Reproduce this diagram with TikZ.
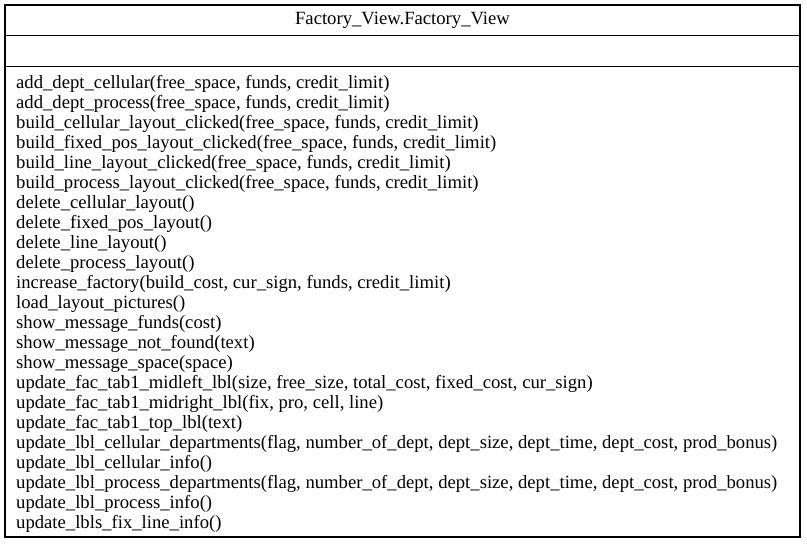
\documentclass[tikz,border=0pt]{standalone}
\usepackage{fontspec}
\setmainfont{Liberation Serif}
\begin{document}
\begin{tikzpicture}[x=1pt,y=-1pt,
  boxline/.style={draw=black,line width=1.1pt},
  sepline/.style={draw=black,line width=1pt},
  meth/.style={anchor=base west,inner sep=0pt,font=\fontsize{18.67}{20}\selectfont},
  ttl/.style={anchor=base,inner sep=0pt,font=\fontsize{18.67}{20}\selectfont}]
\useasboundingbox (0,0) rectangle (807,545);
\fill[white] (0,0) rectangle (807,545);
\coordinate (tl) at (5,5);
\coordinate (br) at (800,537);
\coordinate (s1l) at (5,36);
\coordinate (s1r) at (800,36);
\coordinate (s2l) at (5,67);
\coordinate (s2r) at (800,67);
\draw[boxline] (tl) rectangle (br);
\draw[sepline] (s1l) -- (s1r);
\draw[sepline] (s2l) -- (s2r);
\node[ttl] (title) at (402.5,24.5) {Factory\_View.Factory\_View};
\foreach \t [count=\i] in {
add\_dept\_cellular(free\_space{,} funds{,} credit\_limit),
add\_dept\_process(free\_space{,} funds{,} credit\_limit),
build\_cellular\_layout\_clicked(free\_space{,} funds{,} credit\_limit),
build\_fixed\_pos\_layout\_clicked(free\_space{,} funds{,} credit\_limit),
build\_line\_layout\_clicked(free\_space{,} funds{,} credit\_limit),
build\_process\_layout\_clicked(free\_space{,} funds{,} credit\_limit),
delete\_cellular\_layout(),
delete\_fixed\_pos\_layout(),
delete\_line\_layout(),
delete\_process\_layout(),
increase\_factory(build\_cost{,} cur\_sign{,} funds{,} credit\_limit),
load\_layout\_pictures(),
show\_message\_funds(cost),
show\_message\_not\_found(text),
show\_message\_space(space),
update\_fac\_tab1\_midleft\_lbl(size{,} free\_size{,} total\_cost{,} fixed\_cost{,} cur\_sign),
update\_fac\_tab1\_midright\_lbl(fix{,} pro{,} cell{,} line),
update\_fac\_tab1\_top\_lbl(text),
update\_lbl\_cellular\_departments(flag{,} number\_of\_dept{,} dept\_size{,} dept\_time{,} dept\_cost{,} prod\_bonus),
update\_lbl\_cellular\_info(),
update\_lbl\_process\_departments(flag{,} number\_of\_dept{,} dept\_size{,} dept\_time{,} dept\_cost{,} prod\_bonus),
update\_lbl\_process\_info(),
update\_lbls\_fix\_line\_info()}
  \node[meth] (m\i) at (16,{88.5+(\i-1)*20}) {\t};
\end{tikzpicture}
\end{document}
